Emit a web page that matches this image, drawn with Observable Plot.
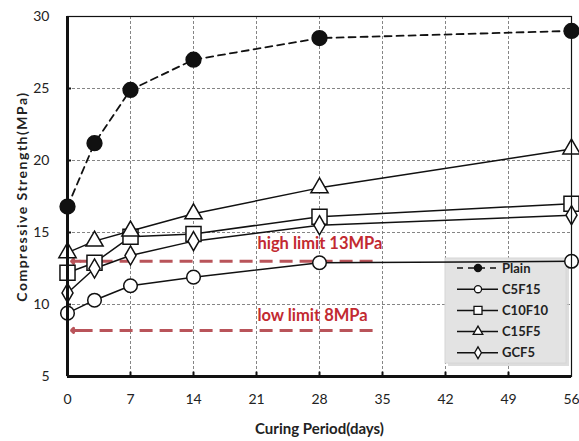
<!DOCTYPE html>
<html>
<head>
<meta charset="utf-8">
<script src="https://cdn.jsdelivr.net/npm/d3@7"></script>
<script src="https://cdn.jsdelivr.net/npm/@observablehq/plot@0.6"></script>
<style>
  html, body { margin: 0; padding: 0; background: #fff; }
  #chart { width: 579px; height: 441px; }
</style>
</head>
<body>
<div id="chart"></div>
<script>
// ---- data ----
const days = [0, 3, 7, 14, 28, 56];
const seriesNames = ["Plain", "C5F15", "C10F10", "C15F5", "GCF5"];
const plain  = [16.8, 21.2, 24.9, 27.0, 28.5, 29.0];
const c5f15  = [9.4, 10.3, 11.3, 11.9, 12.9, 13.0];
const c10f10 = [12.2, 12.9, 14.7, 14.9, 16.1, 17.0];
const c15f5  = [13.6, 14.4, 15.1, 16.3, 18.1, 20.8];
const gcf5   = [10.8, 12.5, 13.4, 14.4, 15.5, 16.2];
const seriesSymbols = ["circle", "circle", "square", "triangle", "diamond"];
const xTicks = [0, 7, 14, 21, 28, 35, 42, 49, 56];
const yTicks = [5, 10, 15, 20, 25, 30];
const limitValues = [13, 8.2];
const limitLabels = ["high limit 13MPa", "low limit 8MPa"];
const limitLabelDay = [21.1, 21.1];
const limitLabelY = [14.2, 9.25];
const limitStartDay = 1.4, limitEndDay = 34;
const xLabel = "Curing Period(days)";
const yLabel = "Compressive Strength(MPa)";

const seriesValues = [plain, c5f15, c10f10, c15f5, gcf5];
const data = seriesNames.flatMap((s, k) => days.map((d, i) => ({series: s, day: d, value: seriesValues[k][i]})));
const limits = limitValues.map((v, i) => ({value: v, label: limitLabels[i], lx: limitLabelDay[i], ly: limitLabelY[i]}));

const RED_LINE = "#b9545a";
const RED_TEXT = "#c22a31";
const symR = {circle: 6.8, square: 8.5, triangle: 6.4, diamond: 5.8};

// legend drawn inside the plot (under the series lines)
function legendMark(index, scales, values, dims) {
  const g = d3.create("svg:g");
  const x0 = 445, y0 = 258, w = 121, h = 105;
  g.append("rect").attr("x", x0 + 3).attr("y", y0 + 3).attr("width", w).attr("height", h)
    .attr("fill", "#cfcfcf").attr("opacity", 0.7);
  g.append("rect").attr("x", x0).attr("y", y0).attr("width", w).attr("height", h)
    .attr("fill", "#e3e3e3").attr("stroke", "#d6d6d6");
  seriesNames.forEach((name, i) => {
    const cy = y0 + 10 + i * 21.2;
    const item = g.append("g");
    item.append("line").attr("x1", 457).attr("x2", 498).attr("y1", cy).attr("y2", cy)
      .attr("stroke", "#111").attr("stroke-width", 1.5)
      .attr("stroke-dasharray", name === "Plain" ? "6,5" : null);
    const sym = d3.symbol().type({
      circle: d3.symbolCircle, square: d3.symbolSquare,
      triangle: d3.symbolTriangle, diamond: d3.symbolDiamond
    }[seriesSymbols[i]]).size(seriesSymbols[i] === "square" ? 64 : 40);
    item.append("path").attr("d", sym()).attr("transform", `translate(478,${cy})`)
      .attr("fill", name === "Plain" ? "#111" : "#fff").attr("stroke", "#111").attr("stroke-width", 1.3);
    item.append("text").attr("x", 502).attr("y", cy).attr("dy", "0.35em")
      .attr("text-anchor", "start")
      .attr("font-family", "Lato").attr("font-weight", "bold").attr("font-size", 13)
      .attr("fill", "#222").text(name);
  });
  return g.node();
}

const marks = [
  // grid
  Plot.ruleX(xTicks.filter(t => t > 0 && t < 56), {stroke: "#777", strokeWidth: 0.9, strokeDasharray: "3,2"}),
  Plot.ruleY(yTicks.filter(t => t > 5 && t < 30), {stroke: "#777", strokeWidth: 0.9, strokeDasharray: "3,2"}),
  legendMark,
  // limit lines
  Plot.ruleY(limits, {y: "value", x1: limitStartDay, x2: limitEndDay, stroke: RED_LINE, strokeWidth: 3, strokeDasharray: "13,7"}),
  Plot.arrow(limits, {x1: 1.4, x2: 0.45, y1: "value", y2: "value", stroke: RED_LINE, strokeWidth: 3, headLength: 8, headAngle: 90}),
  Plot.text(limits, {x: "lx", y: "ly", text: "label", fill: RED_TEXT, textAnchor: "start", fontSize: 16.5, fontWeight: "bold", fontFamily: "Lato"}),
];
seriesNames.forEach((name, k) => {
  const rows = data.filter(d => d.series === name);
  marks.push(Plot.line(rows, {x: "day", y: "value", stroke: "#111", strokeWidth: name === "Plain" ? 1.8 : 1.5,
    strokeDasharray: name === "Plain" ? "7,5" : null}));
});
seriesNames.forEach((name, k) => {
  const rows = data.filter(d => d.series === name);
  const s = seriesSymbols[k];
  marks.push(Plot.dot(rows, {x: "day", y: "value", symbol: () => s, r: name === "Plain" ? 7.4 : symR[s],
    fill: name === "Plain" ? "#111" : "#fff", stroke: "#111", strokeWidth: 1.5}));
});
marks.push(
  Plot.frame({stroke: "#111", strokeWidth: 1.2}),
  Plot.ruleX([0], {stroke: "#111", strokeWidth: 3}),
  Plot.ruleY([5], {stroke: "#111", strokeWidth: 3}),
  // inward tick marks
  Plot.ruleX(xTicks.filter(t => t > 0 && t < 56), {y1: 5, y2: 5.3, stroke: "#111", strokeWidth: 2}),
  Plot.ruleY(yTicks.filter(t => t > 5 && t < 30), {x1: 0, x2: 0.45, stroke: "#111", strokeWidth: 2})
);

const chart = Plot.plot({
  width: 579,
  height: 441,
  marginLeft: 67,
  marginRight: 8,
  marginTop: 16,
  marginBottom: 65,
  style: {fontFamily: "Lato", fontSize: "14px", color: "#222", background: "#fff"},
  x: {domain: [0, 56], ticks: xTicks, tickSize: 0, tickPadding: 18, label: xLabel, labelAnchor: "center", labelOffset: 57},
  y: {domain: [5, 30], ticks: yTicks, tickSize: 0, tickPadding: 18, label: yLabel, labelAnchor: "center", labelOffset: 50},
  marks
});

d3.select(chart).selectAll("text").each(function () {
  const t = this.textContent.replace(/[\u2190-\u2193]/g, "").trim();
  if (t === xLabel || t === yLabel) {
    const sel = d3.select(this);
    sel.selectAll("tspan").remove();
    sel.text(t).attr("font-weight", "bold").attr("fill", "#222");
    if (t === yLabel) sel.attr("letter-spacing", "1.5px").attr("font-size", 14);
    else sel.attr("font-size", 15);
  }
});
document.getElementById("chart").appendChild(chart);
</script>
</body>
</html>
